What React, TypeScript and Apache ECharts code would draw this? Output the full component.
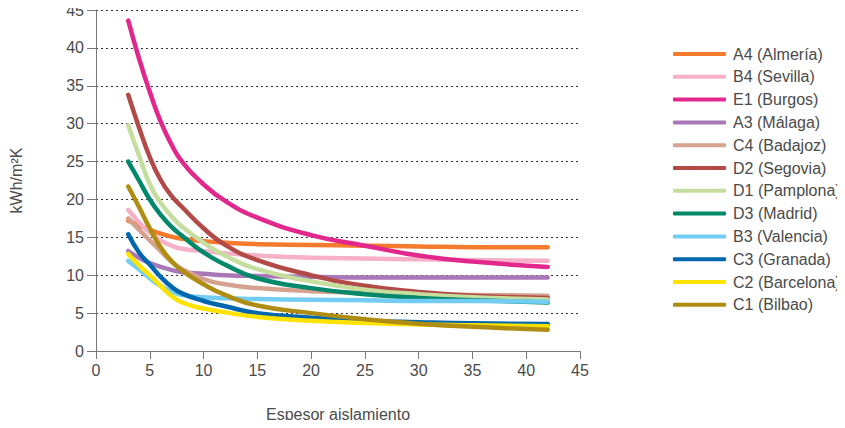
import React, { useEffect, useRef } from "react";
import * as echarts from "echarts";

const thickness = [3, 4, 5, 6, 7, 8, 10, 12, 15, 20, 25, 30, 35, 42];

const seriesNames = [
  "A4 (Almería)",
  "B4 (Sevilla)",
  "E1 (Burgos)",
  "A3 (Málaga)",
  "C4 (Badajoz)",
  "D2 (Segovia)",
  "D1 (Pamplona)",
  "D3 (Madrid)",
  "B3 (Valencia)",
  "C3 (Granada)",
  "C2 (Barcelona)",
  "C1 (Bilbao)",
];

const a4Almeria = [17.2, 16.6, 16.0, 15.5, 15.1, 14.8, 14.5, 14.3, 14.1, 14.0, 13.9, 13.8, 13.7, 13.7];
const b4Sevilla = [18.6, 17.0, 15.6, 14.6, 13.9, 13.5, 13.2, 12.9, 12.6, 12.3, 12.2, 12.1, 12.0, 11.9];
const e1Burgos = [43.6, 38.6, 34.2, 30.3, 27.3, 25.0, 22.0, 19.8, 17.6, 15.3, 13.9, 12.6, 11.8, 11.1];
const a3Malaga = [13.2, 12.3, 11.6, 11.1, 10.7, 10.4, 10.2, 10.0, 9.9, 9.8, 9.7, 9.7, 9.7, 9.7];
const c4Badajoz = [17.5, 16.0, 14.6, 13.2, 11.8, 10.8, 9.5, 8.8, 8.3, 7.9, 7.7, 7.5, 7.4, 7.3];
const d2Segovia = [33.8, 29.5, 25.6, 22.6, 20.5, 19.0, 16.2, 14.0, 12.0, 10.0, 8.6, 7.8, 7.3, 7.0];
const d1Pamplona = [29.8, 25.8, 22.0, 19.6, 17.8, 16.4, 14.3, 12.6, 10.8, 9.2, 8.1, 7.5, 7.1, 6.8];
const d3Madrid = [25.0, 22.5, 20.0, 18.0, 16.4, 15.2, 13.0, 11.4, 9.6, 8.3, 7.5, 7.0, 6.7, 6.4];
const b3Valencia = [11.9, 10.8, 9.6, 8.6, 7.9, 7.4, 7.1, 6.95, 6.85, 6.75, 6.7, 6.6, 6.6, 6.5];
const c3Granada = [15.4, 13.0, 11.4, 9.8, 8.5, 7.6, 6.6, 5.9, 5.0, 4.4, 4.0, 3.8, 3.65, 3.55];
const c2Barcelona = [12.8, 11.3, 10.0, 8.6, 7.3, 6.4, 5.6, 5.1, 4.5, 4.0, 3.7, 3.5, 3.4, 3.25];
const c1Bilbao = [21.7, 19.0, 16.2, 13.7, 11.9, 10.6, 8.8, 7.4, 6.0, 5.0, 4.2, 3.6, 3.2, 2.8];

const seriesValues = [
  a4Almeria, b4Sevilla, e1Burgos, a3Malaga, c4Badajoz, d2Segovia,
  d1Pamplona, d3Madrid, b3Valencia, c3Granada, c2Barcelona, c1Bilbao,
];

const seriesColors = [
  "#F47A2E", "#F6B0C7", "#E2288C", "#A877B7", "#D5A28F", "#B24A48",
  "#C5DE9E", "#00886A", "#73CDF3", "#0067AF", "#FFE300", "#AF8D13",
];

const yTicks = [0, 5, 10, 15, 20, 25, 30, 35, 40, 45];
const xTicks = [0, 5, 10, 15, 20, 25, 30, 35, 40, 45];

const FONT = "'Liberation Sans', Arial, sans-serif";
const TEXT = "#4a4a4a";

export default function App() {
  const ref = useRef<HTMLDivElement>(null);
  useEffect(() => {
    if (!ref.current) return;
    const chart = echarts.init(ref.current, null, { renderer: "svg" });
    chart.setOption({
      animation: false,
      textStyle: { fontFamily: FONT },
      grid: { left: 95, top: 10, width: 485, height: 341, containLabel: false },
      legend: {
        orient: "vertical",
        left: 668,
        top: 41,
        itemWidth: 53,
        itemHeight: 4,
        itemGap: 6.8,
        icon: "roundRect",
        textStyle: { fontSize: 16, color: TEXT, fontFamily: FONT, lineHeight: 16, padding: [0, 0, 0, 2] },
        data: seriesNames,
      },
      xAxis: {
        type: "value",
        min: xTicks[0],
        max: xTicks[xTicks.length - 1],
        interval: 5,
        name: "Espesor aislamiento",
        nameLocation: "middle",
        nameGap: 55,
        nameTextStyle: { fontSize: 16, color: TEXT, fontFamily: FONT },
        axisLine: { show: true, lineStyle: { color: "#777", width: 1 } },
        axisTick: { show: true, length: 8, lineStyle: { color: "#777" } },
        axisLabel: { fontSize: 16, color: TEXT, margin: 11, fontFamily: FONT },
        splitLine: { show: false },
      },
      yAxis: {
        type: "value",
        min: yTicks[0],
        max: yTicks[yTicks.length - 1],
        interval: 5,
        name: "kWh/m²K",
        nameLocation: "middle",
        nameGap: 72,
        nameRotate: 90,
        nameTextStyle: { fontSize: 16, color: TEXT, fontFamily: FONT },
        axisLine: { show: true, lineStyle: { color: "#777", width: 1 } },
        axisTick: { show: true, length: 9, lineStyle: { color: "#777" } },
        axisLabel: { fontSize: 16, color: TEXT, margin: 12, fontFamily: FONT },
        splitLine: { show: true, lineStyle: { color: "#333", width: 1, type: [2, 3] } },
      },
      series: seriesNames.map((name, i) => ({
        name,
        type: "line",
        data: thickness.map((x, j) => [x, seriesValues[i][j]]),
        smooth: 0.5,
        symbol: "none",
        color: seriesColors[i],
        lineStyle: { width: 4.5, color: seriesColors[i], cap: "round", join: "round" },
        emphasis: { disabled: true },
      })),
    });
    return () => chart.dispose();
  }, []);
  return <div ref={ref} style={{ width: 845, height: 428, margin: -8 }} />;
}
